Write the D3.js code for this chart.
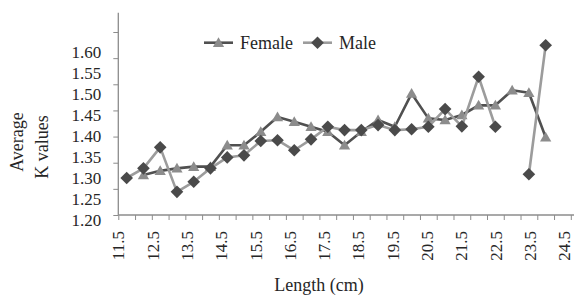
<!DOCTYPE html>
<html>
<head>
<meta charset="utf-8">
<script src="https://cdn.jsdelivr.net/npm/d3@7"></script>
<style>
  body { margin: 0; background: #fff; }
  text { font-family: "Liberation Serif", "Times New Roman", serif; fill: #262626; }
</style>
</head>
<body>
<div id="chart"></div>
<script>
var svgWidth = 574;
var svgHeight = 295;

// length classes (cm), one category per half centimetre
var lengths = [11.75, 12.25, 12.75, 13.25, 13.75, 14.25, 14.75, 15.25, 15.75, 16.25,
  16.75, 17.25, 17.75, 18.25, 18.75, 19.25, 19.75, 20.25, 20.75, 21.25,
  21.75, 22.25, 22.75, 23.25, 23.75, 24.25, 24.75];

// average K values per class (null = no fish in that class)
var female = [null, 1.307, 1.317, 1.323, 1.327, 1.327, 1.378, 1.378, 1.410, 1.445,
  1.434, 1.422, 1.410, 1.378, 1.410, 1.438, 1.422, 1.501, 1.442, 1.438,
  1.450, 1.473, 1.473, 1.509, 1.503, 1.397, null];

var male = [1.300, 1.323, 1.373, 1.267, 1.291, 1.323, 1.349, 1.354, 1.388, 1.390,
  1.366, 1.392, 1.422, 1.414, 1.414, 1.426, 1.414, 1.416, 1.422, 1.464,
  1.423, 1.541, 1.422, null, 1.309, 1.616, null];

var xTickLabels = [11.5, 12.5, 13.5, 14.5, 15.5, 16.5, 17.5, 18.5, 19.5, 20.5, 21.5, 22.5, 23.5, 24.5];
var yTickLabels = [1.20, 1.25, 1.30, 1.35, 1.40, 1.45, 1.50, 1.55, 1.60];

var svg = d3.select("#chart")
  .append("svg")
  .attr("width", svgWidth)
  .attr("height", svgHeight);

var axisX0 = 118.3;   // y axis position
var axisY0 = 215;     // x axis position

// category scale for the points
var xScale = d3.scaleBand()
  .domain(lengths)
  .range([axisX0, 570.8])
  .padding(0);
var xPos = d => xScale(d) + xScale.bandwidth() / 2;

// tick marks sit between categories
var xEdge = d3.scaleLinear().domain([0, lengths.length]).range([axisX0, 570.8]);
// printed length labels
var xLabel = d3.scaleLinear().domain([11.5, 24.5]).range([axisX0, 564]);

// value scale (matches the printed labels)
var yScale = d3.scaleLinear().domain([1.20, 1.60]).range([220, 52]);
// tick marks of the value axis
var yEdge = d3.scaleLinear().domain([0, 7]).range([axisY0, 32]);

var axisColor = "#8c8c8c";

// x axis ticks
var xTicks = svg.append("g")
  .attr("transform", `translate(0, ${axisY0})`)
  .call(d3.axisBottom(xEdge).tickValues(d3.range(0, lengths.length + 1)).tickSize(5).tickFormat(""));
xTicks.select(".domain").remove();
xTicks.selectAll("line").attr("stroke", axisColor);

// x axis labels, rotated
var xLabels = svg.append("g")
  .attr("transform", `translate(0, ${axisY0})`)
  .call(d3.axisBottom(xLabel).tickValues(xTickLabels).tickSize(0).tickFormat(d3.format(".1f")));
xLabels.select(".domain").remove();
xLabels.selectAll("text")
  .attr("transform", "rotate(-90)")
  .attr("x", -16)
  .attr("y", 0)
  .attr("dy", "0.33em")
  .attr("text-anchor", "end")
  .attr("font-size", 17)
  .attr("fill", "#262626");

// y axis ticks
var yTicks = svg.append("g")
  .attr("transform", `translate(${axisX0}, 0)`)
  .call(d3.axisLeft(yEdge).tickValues(d3.range(0, 8)).tickSize(5).tickFormat(""));
yTicks.select(".domain").remove();
yTicks.selectAll("line").attr("stroke", axisColor);

// y axis labels
var yLabels = svg.append("g")
  .attr("transform", `translate(${axisX0}, 0)`)
  .call(d3.axisLeft(yScale).tickValues(yTickLabels).tickSize(0).tickPadding(17).tickFormat(d3.format(".2f")));
yLabels.select(".domain").remove();
yLabels.selectAll("text")
  .attr("font-size", 17)
  .attr("fill", "#262626");

// axis lines
svg.append("line")
  .attr("x1", axisX0).attr("x2", 574)
  .attr("y1", axisY0).attr("y2", axisY0)
  .attr("stroke", axisColor).attr("stroke-width", 1.3);
svg.append("line")
  .attr("x1", axisX0).attr("x2", axisX0)
  .attr("y1", 12.7).attr("y2", axisY0)
  .attr("stroke", axisColor).attr("stroke-width", 1.3);

// series
var series = [
  { name: "Female", values: female, line: "#505050", marker: "#8c8c8c", symbol: d3.symbolTriangle, size: 55, rot: 0, dy: 1 },
  { name: "Male", values: male, line: "#9c9c9c", marker: "#4a4a4a", symbol: d3.symbolSquare, size: 80, rot: 45, dy: 0 }
];

var lineGen = d3.line()
  .defined(d => d.v != null)
  .x(d => xPos(d.len))
  .y(d => yScale(d.v));

series.forEach(function (s) {
  var pts = lengths.map((len, i) => ({ len: len, v: s.values[i] }));

  svg.append("path")
    .datum(pts)
    .attr("fill", "none")
    .attr("stroke", s.line)
    .attr("stroke-width", 2.6)
    .attr("stroke-linejoin", "round")
    .attr("d", lineGen);

  svg.append("g").selectAll("path")
    .data(pts.filter(d => d.v != null))
    .enter()
    .append("path")
    .attr("d", d3.symbol().type(s.symbol).size(s.size))
    .attr("transform", d => `translate(${xPos(d.len)}, ${yScale(d.v) + s.dy}) rotate(${s.rot})`)
    .attr("fill", s.marker);
});

// legend
var legend = svg.append("g");
var legendX = [204, 303];
series.forEach(function (s, i) {
  var lx = legendX[i];
  legend.append("line")
    .attr("x1", lx).attr("x2", lx + 29)
    .attr("y1", 42.7).attr("y2", 42.7)
    .attr("stroke", s.line).attr("stroke-width", 2.6);
  legend.append("path")
    .attr("d", d3.symbol().type(s.symbol).size(s.size))
    .attr("transform", `translate(${lx + 14.5}, ${42.7 + s.dy}) rotate(${s.rot})`)
    .attr("fill", s.marker);
  legend.append("text")
    .attr("x", lx + 36)
    .attr("y", 48.5)
    .attr("font-size", 18)
    .text(s.name);
});

// axis titles
svg.append("text")
  .attr("transform", `translate(${319}, ${291}) `)
  .attr("text-anchor", "middle")
  .attr("font-size", 18)
  .text("Length (cm)");

svg.append("text")
  .attr("transform", `translate(${23}, ${142}) rotate(-90)`)
  .attr("text-anchor", "middle")
  .attr("font-size", 18)
  .text("Average");

svg.append("text")
  .attr("transform", `translate(${48}, ${147}) rotate(-90)`)
  .attr("text-anchor", "middle")
  .attr("font-size", 18)
  .text("K values");
</script>
</body>
</html>
